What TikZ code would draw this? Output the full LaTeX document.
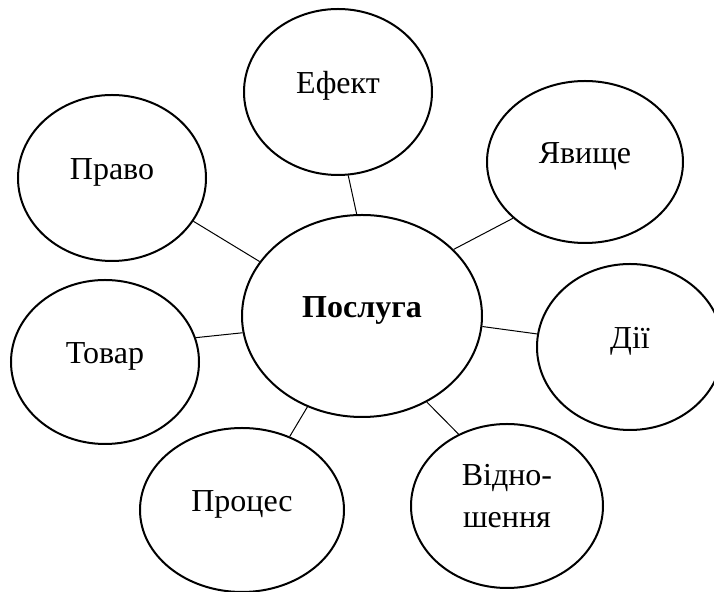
\documentclass[tikz,border=0pt]{standalone}
\usepackage{fontspec}
\setmainfont{Liberation Serif}
\usetikzlibrary{shapes.geometric}
\begin{document}
\begin{tikzpicture}[x=0.5pt, y=-0.5pt,
  bubble/.style={ellipse, draw, line width=1pt, inner sep=0pt, align=center,
    font=\fontsize{16}{21}\selectfont, text height=11pt, text depth=9pt},
  link/.style={line width=0.5pt}]
\useasboundingbox (0,0) rectangle (714,592);
\clip (0,0) rectangle (714,592);

% Centre
\node[bubble, minimum width=120pt, minimum height=101pt, font=\fontsize{16}{21}\selectfont\bfseries] (posluha) at (362,316) {Послуга};

% Outer ellipses
\node[bubble, minimum width=94pt, minimum height=83pt] (efekt) at (338,92) {Ефект};
\node[bubble, minimum width=94pt, minimum height=83pt] (pravo) at (112,178) {Право};
\node[bubble, minimum width=98pt, minimum height=81pt] (yavyshche) at (585,162) {Явище};
\node[bubble, minimum width=94pt, minimum height=82pt] (tovar) at (105,362) {Товар};
\node[bubble, minimum width=93pt, minimum height=83pt] (dii) at (630,347) {Дії};
\node[bubble, minimum width=102pt, minimum height=82pt] (protses) at (242,510) {Процес};
\node[bubble, minimum width=96pt, minimum height=82pt, text height=, text depth=10.5pt] (vidnoshennia) at (507,506) {Відно-\\шення};

% Links
\draw[link] (efekt.-83) -- (posluha.93);
\draw[link] (pravo.-28) -- (posluha.152);
\draw[link] (yavyshche.-142) -- (posluha.36);
\draw[link] (tovar.15) -- (posluha.-172);
\draw[link] (dii.172) -- (posluha.-5);
\draw[link] (protses.57) -- (posluha.-121);
\draw[link] (vidnoshennia.124) -- (posluha.-53);
\end{tikzpicture}
\end{document}
